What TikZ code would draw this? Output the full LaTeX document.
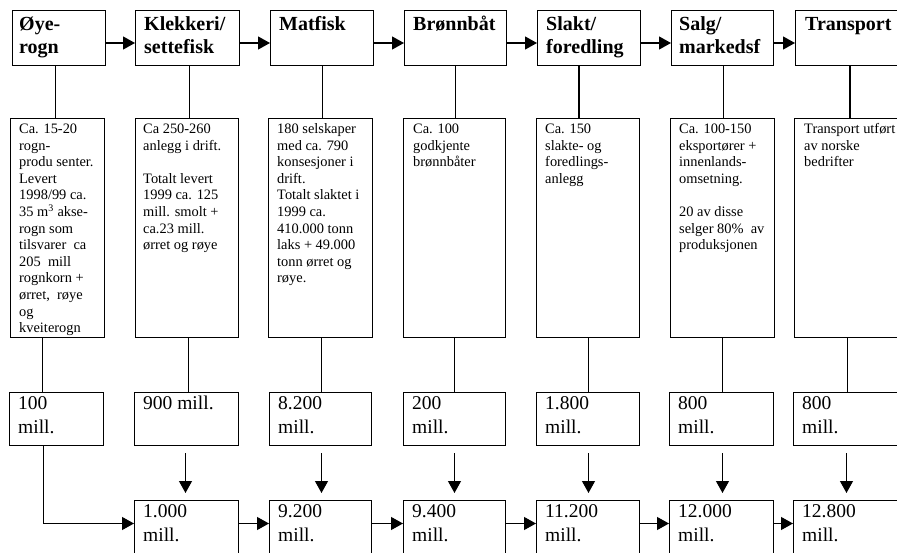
\documentclass[tikz,border=0pt]{standalone}
\usepackage{fontspec}
\setmainfont{Liberation Serif}
\usetikzlibrary{arrows.meta}
\newcommand\rows[1]{\begin{tabular}[t]{@{}l@{}}#1\end{tabular}}
\begin{document}
\begin{tikzpicture}[x=1pt,y=-1pt,
  frame/.style={draw, line width=1pt, inner sep=0pt, anchor=north west, rectangle},
  hdrbox/.style={frame, minimum height=55pt},
  txtbox/.style={frame, minimum height=219pt},
  valbox/.style={frame, minimum height=53pt},
  botbox/.style={frame, minimum height=70pt},
  lbl/.style={anchor=base west, inner sep=0pt},
  hlbl/.style={lbl, font=\fontsize{20}{22.5}\selectfont\bfseries},
  tlbl/.style={lbl, font=\fontsize{14.4}{16.6}\selectfont},
  vlbl/.style={lbl, font=\fontsize{19.5}{24}\selectfont},
  conn/.style={line width=1.2pt},
  arr/.style={conn, -{Triangle[length=12pt,width=13pt]}},
]
\useasboundingbox (0,0) rectangle (897,553);

% header boxes
\node[hdrbox, minimum width=93pt]  (h1) at (12,10) {};
\node[hdrbox, minimum width=104pt] (h2) at (135,10) {};
\node[hdrbox, minimum width=103pt] (h3) at (270,10) {};
\node[hdrbox, minimum width=102pt] (h4) at (404,10) {};
\node[hdrbox, minimum width=103pt] (h5) at (537,10) {};
\node[hdrbox, minimum width=102pt] (h6) at (671,10) {};
\node[hdrbox, minimum width=110pt] (h7) at (795,10) {};

\node[hlbl] (h1l) at ([shift={(7pt,-21pt)}]h1.north west) {\rows{Øye-\\rogn}};
\node[hlbl] (h2l) at ([shift={(9pt,-21pt)}]h2.north west) {\rows{Klekkeri/\\settefisk}};
\node[hlbl] (h3l) at ([shift={(9pt,-21pt)}]h3.north west) {\rows{Matfisk}};
\node[hlbl] (h4l) at ([shift={(9pt,-21pt)}]h4.north west) {\rows{Brønnbåt}};
\node[hlbl] (h5l) at ([shift={(9pt,-21pt)}]h5.north west) {\rows{Slakt/\\foredling}};
\node[hlbl] (h6l) at ([shift={(8pt,-21pt)}]h6.north west) {\rows{Salg/\\markedsf}};
\node[hlbl] (h7l) at ([shift={(10pt,-21pt)}]h7.north west) {\rows{Transport}};

% text boxes
\node[txtbox, minimum width=94pt]  (t1) at (10,118) {};
\node[txtbox, minimum width=103pt] (t2) at (135,118) {};
\node[txtbox, minimum width=104pt] (t3) at (268,118) {};
\node[txtbox, minimum width=102pt] (t4) at (403,118) {};
\node[txtbox, minimum width=103pt] (t5) at (536,118) {};
\node[txtbox, minimum width=104pt] (t6) at (670,118) {};
\node[txtbox, minimum width=110pt] (t7) at (794,118) {};

\node[tlbl] (t1l) at ([shift={(9pt,-15.5pt)}]t1.north west) {\rows{Ca. 15-20\\rogn-\\produ senter.\\Levert\\1998/99 ca.\\35 m\smash{\textsuperscript{3}} akse-\\rogn som\\tilsvarer\ \ ca\\205\ \ mill\\rognkorn +\\ørret,\ \ røye\\og\\kveiterogn}};
\node[tlbl] (t2l) at ([shift={(8pt,-15.5pt)}]t2.north west) {\rows{Ca 250-260\\anlegg i drift.\\ \\Totalt levert\\1999 ca. 125\\mill. smolt +\\ca.23 mill.\\ørret og røye}};
\node[tlbl] (t3l) at ([shift={(9pt,-15.5pt)}]t3.north west) {\rows{180 selskaper\\med ca. 790\\konsesjoner i\\drift.\\Totalt slaktet i\\1999 ca.\\410.000 tonn\\laks + 49.000\\tonn ørret og\\røye.}};
\node[tlbl] (t4l) at ([shift={(10pt,-15.5pt)}]t4.north west) {\rows{Ca. 100\\godkjente\\brønnbåter}};
\node[tlbl] (t5l) at ([shift={(9pt,-15.5pt)}]t5.north west) {\rows{Ca. 150\\slakte- og\\foredlings-\\anlegg}};
\node[tlbl] (t6l) at ([shift={(9pt,-15.5pt)}]t6.north west) {\rows{Ca. 100-150\\eksportører +\\innenlands-\\omsetning.\\ \\20 av disse\\selger 80\%\ \ av\\produksjonen}};
\node[tlbl] (t7l) at ([shift={(10pt,-15.5pt)}]t7.north west) {\rows{Transport utført\\av norske\\bedrifter}};

% value boxes
\node[valbox, minimum width=94pt]  (v1) at (9,392) {};
\node[valbox, minimum width=104pt] (v2) at (134,392) {};
\node[valbox, minimum width=102pt] (v3) at (269,392) {};
\node[valbox, minimum width=102pt] (v4) at (403,392) {};
\node[valbox, minimum width=103pt] (v5) at (536,392) {};
\node[valbox, minimum width=104pt] (v6) at (669,392) {};
\node[valbox, minimum width=110pt] (v7) at (793,392) {};

\node[vlbl] (v1l) at ([shift={(9pt,-17.5pt)}]v1.north west) {\rows{100\\mill.}};
\node[vlbl] (v2l) at ([shift={(9pt,-17.5pt)}]v2.north west) {\rows{900 mill.}};
\node[vlbl] (v3l) at ([shift={(9pt,-17.5pt)}]v3.north west) {\rows{8.200\\mill.}};
\node[vlbl] (v4l) at ([shift={(9pt,-17.5pt)}]v4.north west) {\rows{200\\mill.}};
\node[vlbl] (v5l) at ([shift={(9pt,-17.5pt)}]v5.north west) {\rows{1.800\\mill.}};
\node[vlbl] (v6l) at ([shift={(9pt,-17.5pt)}]v6.north west) {\rows{800\\mill.}};
\node[vlbl] (v7l) at ([shift={(9pt,-17.5pt)}]v7.north west) {\rows{800\\mill.}};

% bottom boxes
\node[botbox, minimum width=104pt] (b2) at (134,500) {};
\node[botbox, minimum width=102pt] (b3) at (269,500) {};
\node[botbox, minimum width=102pt] (b4) at (403,500) {};
\node[botbox, minimum width=103pt] (b5) at (536,500) {};
\node[botbox, minimum width=104pt] (b6) at (669,500) {};
\node[botbox, minimum width=110pt] (b7) at (793,500) {};

\node[vlbl] (b2l) at ([shift={(9pt,-17.5pt)}]b2.north west) {\rows{1.000\\mill.}};
\node[vlbl] (b3l) at ([shift={(9pt,-17.5pt)}]b3.north west) {\rows{9.200\\mill.}};
\node[vlbl] (b4l) at ([shift={(9pt,-17.5pt)}]b4.north west) {\rows{9.400\\mill.}};
\node[vlbl] (b5l) at ([shift={(9pt,-17.5pt)}]b5.north west) {\rows{11.200\\mill.}};
\node[vlbl] (b6l) at ([shift={(9pt,-17.5pt)}]b6.north west) {\rows{12.000\\mill.}};
\node[vlbl] (b7l) at ([shift={(9pt,-17.5pt)}]b7.north west) {\rows{12.800\\mill.}};

% header arrows
\draw[arr] ([yshift=-5pt]h1.east) -- ([yshift=-5pt]h2.west);
\draw[arr] ([yshift=-5pt]h2.east) -- ([yshift=-5pt]h3.west);
\draw[arr] ([yshift=-5pt]h3.east) -- ([yshift=-5pt]h4.west);
\draw[arr] ([yshift=-5pt]h4.east) -- ([yshift=-5pt]h5.west);
\draw[arr] ([yshift=-5pt]h5.east) -- ([yshift=-5pt]h6.west);
\draw[arr] ([yshift=-5pt]h6.east) -- ([yshift=-5pt]h7.west);

% header -> text box
\coordinate (u1) at ([xshift=-3.5pt]h1.south);
\coordinate (u2) at ([xshift=2pt]h2.south);
\coordinate (u3) at ([xshift=0.5pt]h3.south);
\coordinate (u4) at (h4.south);
\coordinate (u5) at ([xshift=-10pt]h5.south);
\coordinate (u6) at ([xshift=1pt]h6.south);
\coordinate (u7) at ([xshift=-0.5pt]h7.south);
\draw[conn] (u1) -- (u1 |- t1.north);
\draw[conn] (u2) -- (u2 |- t2.north);
\draw[conn] (u3) -- (u3 |- t3.north);
\draw[conn] (u4) -- (u4 |- t4.north);
\draw[conn] (u5) -- (u5 |- t5.north);
\draw[conn] (u6) -- (u6 |- t6.north);
\draw[conn] (u7) -- (u7 |- t7.north);

% text box -> value box
\coordinate (m1) at ([xshift=-15pt]t1.south);
\coordinate (m2) at ([xshift=1.5pt]t2.south);
\coordinate (m3) at ([xshift=1pt]t3.south);
\coordinate (m4) at (t4.south);
\coordinate (m5) at ([xshift=0.5pt]t5.south);
\coordinate (m6) at (t6.south);
\coordinate (m7) at ([xshift=-2pt]t7.south);
\draw[conn] (m1) -- (m1 |- v1.north);
\draw[conn] (m2) -- (m2 |- v2.north);
\draw[conn] (m3) -- (m3 |- v3.north);
\draw[conn] (m4) -- (m4 |- v4.north);
\draw[conn] (m5) -- (m5 |- v5.north);
\draw[conn] (m6) -- (m6 |- v6.north);
\draw[conn] (m7) -- (m7 |- v7.north);

% value box -> bottom box
\coordinate (d2) at ([xshift=-1pt]v2.south);
\coordinate (d3) at ([xshift=1pt]v3.south);
\coordinate (d4) at (v4.south);
\coordinate (d5) at ([xshift=0.5pt]v5.south);
\coordinate (d6) at ([xshift=1pt]v6.south);
\coordinate (d7) at ([xshift=-2pt]v7.south);
\draw[arr, shorten <=7pt, shorten >=7pt] (d2) -- (d2 |- b2.north);
\draw[arr, shorten <=7pt, shorten >=7pt] (d3) -- (d3 |- b3.north);
\draw[arr, shorten <=7pt, shorten >=7pt] (d4) -- (d4 |- b4.north);
\draw[arr, shorten <=7pt, shorten >=7pt] (d5) -- (d5 |- b5.north);
\draw[arr, shorten <=7pt, shorten >=7pt] (d6) -- (d6 |- b6.north);
\draw[arr, shorten <=7pt, shorten >=7pt] (d7) -- (d7 |- b7.north);

% first column L connector
\draw[arr] ([xshift=-13pt]v1.south) |- ([yshift=12pt]b2.west);

% bottom arrows
\draw[arr] ([yshift=12pt]b2.east) -- ([yshift=12pt]b3.west);
\draw[arr] ([yshift=12pt]b3.east) -- ([yshift=12pt]b4.west);
\draw[arr] ([yshift=12pt]b4.east) -- ([yshift=12pt]b5.west);
\draw[arr] ([yshift=12pt]b5.east) -- ([yshift=12pt]b6.west);
\draw[arr] ([yshift=12pt]b6.east) -- ([yshift=12pt]b7.west);
\end{tikzpicture}
\end{document}
